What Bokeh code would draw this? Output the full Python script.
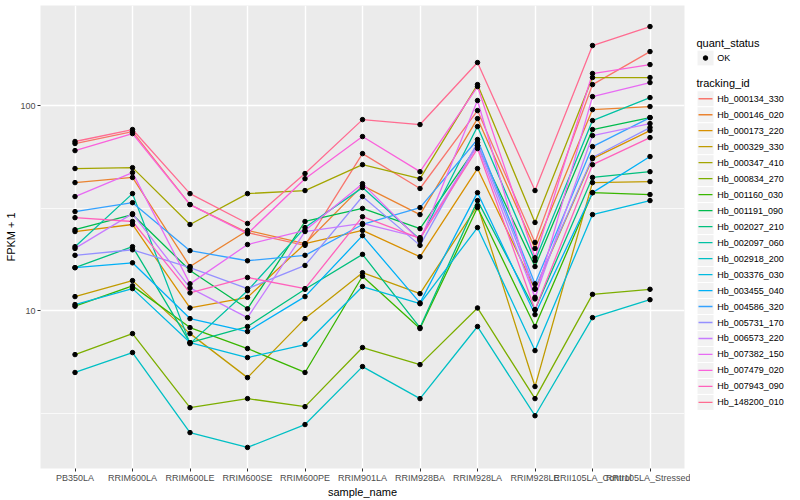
from bokeh.plotting import figure
from bokeh.models import FactorRange, Range1d, FixedTicker
from bokeh.layouts import row
from bokeh.embed import file_html
from bokeh.resources import INLINE
from bokeh.core.properties import value

samples = ["PB350LA", "RRIM600LA", "RRIM600LE", "RRIM600SE", "RRIM600PE",
           "RRIM901LA", "RRIM928BA", "RRIM928LA", "RRIM928LE",
           "RRII105LA_Control", "RRII105LA_Stressed"]

tracking_ids = ["Hb_000134_330", "Hb_000146_020", "Hb_000173_220", "Hb_000329_330",
                "Hb_000347_410", "Hb_000834_270", "Hb_001160_030", "Hb_001191_090",
                "Hb_002027_210", "Hb_002097_060", "Hb_002918_200", "Hb_003376_030",
                "Hb_003455_040", "Hb_004586_320", "Hb_005731_170", "Hb_006573_220",
                "Hb_007382_150", "Hb_007479_020", "Hb_007943_090", "Hb_148200_010"]

colors = ["#F8766D", "#EA8331", "#D89000", "#C09B00", "#A3A500", "#7CAE00", "#39B600",
          "#00BB4E", "#00BF7D", "#00C1A3", "#00BFC4", "#00BAE0", "#00B0F6", "#35A2FF",
          "#9590FF", "#C77CFF", "#E76BF3", "#FA62DB", "#FF62BC", "#FF6C91"]

# FPKM + 1 per sample (order of `samples`)
hb_000134_330 = [65.3, 74.7, 32.9, 24.0, 20.8, 58.3, 39.4, 94.5, 21.5, 126.6, 183.4]
hb_000146_020 = [42.1, 44.6, 16.4, 24.6, 21.2, 40.7, 29.4, 86.4, 20.1, 95.6, 98.9]
hb_000173_220 = [24.3, 26.3, 10.3, 11.6, 21.2, 24.6, 18.3, 49.3, 12.7, 55.1, 75.5]
hb_000329_330 = [11.7, 14.0, 7.72, 4.71, 9.14, 15.3, 12.1, 32.5, 4.26, 42.1, 42.6]
hb_000347_410 = [49.3, 49.8, 26.3, 37.2, 38.5, 51.5, 44.0, 126.6, 26.9, 137.0, 137.0]
hb_000834_270 = [6.10, 7.72, 3.36, 3.72, 3.40, 6.60, 5.45, 10.3, 3.72, 12.0, 12.7]
hb_001160_030 = [10.5, 13.2, 8.26, 6.53, 4.99, 14.7, 8.17, 31.8, 8.36, 37.6, 36.8]
hb_001191_090 = [24.8, 29.4, 15.7, 10.2, 27.2, 31.5, 25.1, 63.8, 16.4, 76.4, 87.4]
hb_002027_210 = [16.2, 20.5, 6.98, 8.36, 12.7, 18.8, 8.26, 34.4, 10.1, 44.6, 47.6]
hb_002097_060 = [20.5, 37.2, 6.90, 12.5, 25.4, 39.8, 22.2, 79.0, 17.5, 84.5, 109.4]
hb_002918_200 = [4.99, 6.24, 2.54, 2.15, 2.78, 5.33, 3.72, 8.36, 3.07, 9.24, 11.3]
hb_003376_030 = [10.7, 12.8, 6.98, 5.90, 6.83, 13.1, 10.8, 25.4, 6.38, 29.4, 34.4]
hb_003455_040 = [16.2, 17.1, 9.14, 7.90, 11.7, 23.2, 10.9, 37.6, 9.56, 37.6, 56.4]
hb_004586_320 = [30.4, 33.6, 19.6, 17.5, 18.6, 26.3, 31.8, 68.3, 13.5, 63.1, 87.4]
hb_005731_170 = [18.6, 19.8, 16.2, 12.8, 16.6, 36.0, 20.8, 66.0, 12.8, 55.8, 78.1]
hb_006573_220 = [20.1, 29.7, 12.9, 9.24, 24.3, 26.6, 22.7, 63.8, 11.6, 71.4, 81.7]
hb_007382_150 = [36.0, 47.1, 13.5, 21.0, 24.6, 41.6, 21.9, 105.8, 11.4, 110.6, 129.5]
hb_007479_020 = [60.3, 73.0, 32.9, 23.7, 44.0, 70.6, 47.6, 123.8, 18.1, 143.3, 158.5]
hb_007943_090 = [28.4, 27.2, 12.2, 14.5, 12.8, 28.7, 22.5, 61.7, 10.1, 51.5, 69.8]
hb_148200_010 = [66.8, 76.4, 37.2, 26.6, 46.6, 85.4, 80.8, 162.1, 38.5, 196.3, 242.9]

series = [hb_000134_330, hb_000146_020, hb_000173_220, hb_000329_330, hb_000347_410,
          hb_000834_270, hb_001160_030, hb_001191_090, hb_002027_210, hb_002097_060,
          hb_002918_200, hb_003376_030, hb_003455_040, hb_004586_320, hb_005731_170,
          hb_006573_220, hb_007382_150, hb_007479_020, hb_007943_090, hb_148200_010]

y_major = [10, 100]
y_minor = [3.1623, 31.623]
y_labels = {10: "10", 100: "100"}

FONT = "Liberation Sans"

p = figure(width=690, height=500,
           x_range=FactorRange(factors=samples, range_padding=0.1, range_padding_units="absolute"),
           y_range=Range1d(1.697, 307.7), y_axis_type="log",
           output_backend="svg", toolbar_location=None,
           min_border_left=40, min_border_right=6, min_border_top=5, min_border_bottom=32)
p.background_fill_color = "#EBEBEB"
p.border_fill_color = "white"
p.outline_line_color = None

tk = FixedTicker(ticks=y_major, minor_ticks=y_minor)
p.yaxis.ticker = tk
p.ygrid.ticker = tk
p.yaxis.major_label_overrides = y_labels
p.ygrid.grid_line_color = "white"
p.ygrid.grid_line_width = 1.4
p.ygrid.minor_grid_line_color = "white"
p.ygrid.minor_grid_line_width = 0.7
p.xgrid.grid_line_color = "white"
p.xgrid.grid_line_width = 1.4

for ax in (p.xaxis, p.yaxis):
    ax.axis_line_color = None
    ax.major_tick_line_color = "#333333"
    ax.major_tick_in = 0
    ax.major_tick_out = 3
    ax.minor_tick_line_color = None
    ax.major_label_text_font = FONT
    ax.major_label_text_font_size = "9px"
    ax.major_label_text_color = "#4D4D4D"
    ax.major_label_standoff = 1
    ax.axis_label_text_font = FONT
    ax.axis_label_text_font_size = "11px"
    ax.axis_label_text_font_style = "normal"
    ax.axis_label_text_color = "black"
    ax.axis_label_standoff = 0
p.xaxis.axis_label = "sample_name"
p.yaxis.axis_label = "FPKM + 1"

for vals, c in zip(series, colors):
    p.line(x=samples, y=vals, line_color=c, line_width=1.3)
for vals in series:
    p.scatter(x=samples, y=vals, size=4.5, fill_color="black", line_color="black")

# legend panel (pixel coordinates)
lg = figure(width=110, height=500, x_range=Range1d(0, 110), y_range=Range1d(500, 0),
            output_backend="svg", toolbar_location=None, min_border=0,
            x_axis_location=None, y_axis_location=None)
lg.outline_line_color = None
lg.grid.visible = False
lg.background_fill_color = "white"
lg.border_fill_color = "white"

lg.text(x=[6], y=[41], text=["quant_status"], text_font=value(FONT), text_font_size="11px",
        text_baseline="middle", text_align="left", text_color="black")
lg.rect(x=[15], y=[56.7], width=17, height=17, fill_color="#F2F2F2", line_color="white", line_width=1)
lg.scatter(x=[15], y=[56.7], size=4.5, fill_color="black", line_color="black")
lg.text(x=[26.7], y=[56.7], text=["OK"], text_font=value(FONT), text_font_size="9px",
        text_baseline="middle", text_align="left", text_color="black")

lg.text(x=[6], y=[84], text=["tracking_id"], text_font=value(FONT), text_font_size="11px",
        text_baseline="middle", text_align="left", text_color="black")
ys = [100.7 + i * 17.26 for i in range(len(tracking_ids))]
lg.rect(x=[15] * len(ys), y=ys, width=17, height=17.26, fill_color="#F2F2F2",
        line_color="white", line_width=1)
lg.segment(x0=[8] * len(ys), x1=[22] * len(ys), y0=ys, y1=ys, line_color=colors, line_width=1.3)
lg.text(x=[26.7] * len(ys), y=ys, text=tracking_ids, text_font=value(FONT), text_font_size="9px",
        text_baseline="middle", text_align="left", text_color="black")

layout = row(p, lg)
open("out.html", "w").write(file_html(layout, INLINE))
